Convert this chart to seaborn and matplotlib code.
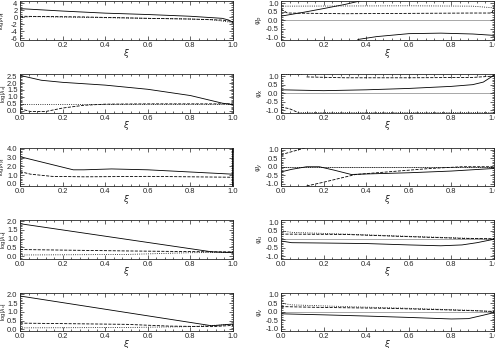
import matplotlib
matplotlib.use("Agg")
import matplotlib.pyplot as plt
import seaborn as sns
from matplotlib.ticker import AutoMinorLocator, MultipleLocator, FormatStrFormatter

sns.set_style("ticks")
plt.rcParams['font.family'] = ['Liberation Sans', 'DejaVu Sans']

# ---------------- data ----------------
# Row 1 left: log|lambda|
r1l_solid_x = [0.0, 0.2, 0.4, 0.6, 0.8, 0.95, 0.98, 1.0]
r1l_solid_y = [2.5, 1.8, 1.2, 0.8, 0.3, -0.3, -0.8, -1.5]
r1l_dash_x = [0.0, 0.3, 0.6, 0.8, 0.95, 1.0]
r1l_dash_y = [0.3, 0.1, -0.3, -0.5, -0.8, -1.2]
r1l_dot_x = [0.0, 0.05, 0.5, 0.8, 0.9, 1.0]
r1l_dot_y = [-0.1, 0.2, -0.2, -0.5, -0.7, -1.5]
# Row 1 right: phase
r1r_solid_a_x = [0.0, 0.1, 0.2, 0.3, 0.37]
r1r_solid_a_y = [0.24, 0.45, 0.68, 0.92, 1.12]
r1r_solid_b_x = [0.36, 0.45, 0.6, 0.75, 0.9, 1.0]
r1r_solid_b_y = [-1.12, -0.95, -0.78, -0.75, -0.8, -0.88]
r1r_dash_x = [0.0, 0.03, 0.3, 0.6, 0.9, 0.99, 1.0]
r1r_dash_y = [0.65, 0.42, 0.38, 0.4, 0.42, 0.42, 0.7]
r1r_dot_x = [0.0, 0.3, 0.6, 0.9, 1.0]
r1r_dot_y = [0.82, 0.83, 0.84, 0.82, 0.72]

# Row 2 left
r2l_solid_x = [0.0, 0.1, 0.2, 0.4, 0.6, 0.8, 0.95, 1.0]
r2l_solid_y = [2.55, 2.2, 2.05, 1.85, 1.55, 1.1, 0.55, 0.45]
r2l_dash_x = [0.0, 0.05, 0.12, 0.2, 0.3, 0.4, 0.6, 1.0]
r2l_dash_y = [0.15, -0.05, -0.05, 0.2, 0.4, 0.48, 0.5, 0.5]
r2l_dot_x = [0.0, 1.0]
r2l_dot_y = [0.5, 0.5]
# Row 2 right
r2r_solid_x = [0.0, 0.2, 0.4, 0.6, 0.8, 0.9, 0.95, 1.0]
r2r_solid_y = [0.2, 0.15, 0.2, 0.28, 0.4, 0.5, 0.65, 1.05]
r2r_dash_a_x = [0.12, 0.3, 0.6, 0.9, 1.0]
r2r_dash_a_y = [0.95, 0.9, 0.9, 0.92, 1.0]
r2r_dash_b_x = [0.0, 0.04, 0.08]
r2r_dash_b_y = [-0.8, -0.9, -1.12]
r2r_dot_a_x = [0.0, 0.1]
r2r_dot_a_y = [1.1, 1.1]
r2r_dot_b_x = [0.08, 1.0]
r2r_dot_b_y = [-1.1, -1.1]

# Row 3 left
r3l_solid_x = [0.0, 0.0, 0.05, 0.1, 0.2, 0.25, 0.3, 0.43, 0.6, 0.8, 1.0]
r3l_solid_y = [3.8, 3.1, 2.8, 2.5, 1.9, 1.6, 1.6, 1.7, 1.6, 1.35, 1.1]
r3l_dash_x = [0.0, 0.05, 0.15, 0.3, 0.6, 1.0]
r3l_dash_y = [1.4, 1.1, 0.85, 0.8, 0.85, 0.75]
r3l_edge_x = [1.0, 1.0]
r3l_edge_y = [-0.25, 4.15]
# Row 3 right
r3r_solid_x = [0.0, 0.05, 0.12, 0.18, 0.25, 0.33, 0.4, 0.6, 0.8, 1.0]
r3r_solid_y = [-0.3, -0.15, 0.0, 0.0, -0.2, -0.45, -0.42, -0.35, -0.25, -0.1]
r3r_dash_a_x = [0.0, 0.12]
r3r_dash_a_y = [0.7, 1.12]
r3r_dash_b_x = [0.12, 0.2, 0.3, 0.35, 0.5, 0.7, 0.85, 1.0]
r3r_dash_b_y = [-1.12, -0.9, -0.6, -0.45, -0.3, -0.1, 0.0, 0.0]
r3r_dot_x = [0.0, 1.0]
r3r_dot_y = [0.0, 0.0]

# Row 4 left
r4l_solid_x = [0.0, 0.9, 1.0]
r4l_solid_y = [1.85, 0.25, 0.2]
r4l_dash_x = [0.0, 0.5, 0.9, 1.0]
r4l_dash_y = [0.38, 0.3, 0.25, 0.25]
r4l_dot_x = [0.0, 0.5, 0.8, 1.0]
r4l_dot_y = [0.07, 0.1, 0.2, 0.22]
# Row 4 right
r4r_solid_x = [0.0, 0.05, 0.2, 0.4, 0.6, 0.75, 0.85, 0.92, 1.0]
r4r_solid_y = [-0.1, -0.2, -0.22, -0.25, -0.33, -0.38, -0.33, -0.2, 0.0]
r4r_dash_x = [0.0, 0.3, 0.6, 0.85, 1.0]
r4r_dash_y = [0.3, 0.28, 0.15, 0.05, 0.03]
r4r_dot_x = [0.0, 0.05, 0.3, 0.6, 0.85, 1.0]
r4r_dot_y = [0.5, 0.4, 0.3, 0.17, 0.07, 0.0]

# Row 5 left
r5l_solid_x = [0.0, 0.9, 1.0]
r5l_solid_y = [1.9, 0.2, 0.3]
r5l_dash_x = [0.0, 0.5, 0.7, 0.9, 1.0]
r5l_dash_y = [0.35, 0.28, 0.18, 0.15, 0.22]
r5l_dot_x = [0.0, 0.5, 0.8, 1.0]
r5l_dot_y = [0.08, 0.1, 0.15, 0.28]
# Row 5 right
r5r_solid_x = [0.0, 0.2, 0.4, 0.6, 0.8, 0.88, 0.95, 1.0]
r5r_solid_y = [-0.12, -0.18, -0.25, -0.33, -0.42, -0.4, -0.2, -0.05]
r5r_dash_x = [0.0, 0.2, 0.5, 0.8, 1.0]
r5r_dash_y = [0.3, 0.25, 0.2, 0.1, 0.02]
r5r_dot_x = [0.0, 0.05, 0.3, 0.6, 0.9, 1.0]
r5r_dot_y = [0.5, 0.4, 0.3, 0.2, 0.08, 0.0]

left_labels = [r"log|$\lambda_\rho$|", r"log|$\lambda_x$|", r"log|$\lambda_y$|",
               r"log|$\lambda_u$|", r"log|$\lambda_v$|"]
right_labels = [r"$\psi_\rho$", r"$\psi_x$", r"$\psi_y$", r"$\psi_u$", r"$\psi_v$"]
left_ylims = [(-6.4, 4.7), (-0.12, 2.65), (-0.25, 4.15), (-0.13, 2.06), (-0.1, 2.1)]
left_ymajor = [2, 0.5, 1, 0.5, 0.5]
left_yminor = [4, 5, 5, 5, 5]
xlabel = r"$\xi$"

# ---------------- layout ----------------
W, H = 495, 348
fig = plt.figure(figsize=(W / 100, H / 100), dpi=100)
tops = [1, 74, 147.5, 220, 292.5]
hgt = 38.5
AW = 213
FS = 5.4


def make_ax(xpx, top):
    return fig.add_axes([xpx / W, 1 - (top + hgt) / H, AW / W, hgt / H])


def style(ax, major, minor_n):
    ax.set_xlim(0, 1)
    ax.xaxis.set_major_locator(MultipleLocator(0.2))
    ax.xaxis.set_minor_locator(AutoMinorLocator(5))
    ax.yaxis.set_major_locator(MultipleLocator(major))
    ax.yaxis.set_minor_locator(AutoMinorLocator(minor_n))
    ax.tick_params(which='both', direction='in', top=True, right=True,
                   labelsize=FS, width=0.5, pad=1.8)
    ax.tick_params(which='major', length=3)
    ax.tick_params(which='minor', length=1.5)
    ax.xaxis.set_major_formatter(FormatStrFormatter('%.1f'))
    for s in ax.spines.values():
        s.set_linewidth(0.6)
    ax.set_xlabel(xlabel, fontsize=FS + 1)
    ax.xaxis.set_label_coords(0.5, -13.5 / hgt)
    ax.xaxis.label.set_va('center')


def line(ax, x, y, ls):
    sns.lineplot(x=x, y=y, ax=ax, color='k', linestyle=ls, linewidth=0.6,
                 sort=False, estimator=None, legend=False)


left_series = [
    [(r1l_solid_x, r1l_solid_y, '-'), (r1l_dash_x, r1l_dash_y, '--'), (r1l_dot_x, r1l_dot_y, ':')],
    [(r2l_solid_x, r2l_solid_y, '-'), (r2l_dash_x, r2l_dash_y, '--'), (r2l_dot_x, r2l_dot_y, ':')],
    [(r3l_solid_x, r3l_solid_y, '-'), (r3l_dash_x, r3l_dash_y, '--')],
    [(r4l_solid_x, r4l_solid_y, '-'), (r4l_dash_x, r4l_dash_y, '--'), (r4l_dot_x, r4l_dot_y, ':')],
    [(r5l_solid_x, r5l_solid_y, '-'), (r5l_dash_x, r5l_dash_y, '--'), (r5l_dot_x, r5l_dot_y, ':')],
]
right_series = [
    [(r1r_solid_a_x, r1r_solid_a_y, '-'), (r1r_solid_b_x, r1r_solid_b_y, '-'),
     (r1r_dash_x, r1r_dash_y, '--'), (r1r_dot_x, r1r_dot_y, ':')],
    [(r2r_solid_x, r2r_solid_y, '-'), (r2r_dash_a_x, r2r_dash_a_y, '--'),
     (r2r_dash_b_x, r2r_dash_b_y, '--'), (r2r_dot_a_x, r2r_dot_a_y, ':'),
     (r2r_dot_b_x, r2r_dot_b_y, ':')],
    [(r3r_solid_x, r3r_solid_y, '-'), (r3r_dash_a_x, r3r_dash_a_y, '--'),
     (r3r_dash_b_x, r3r_dash_b_y, '--'), (r3r_dot_x, r3r_dot_y, ':')],
    [(r4r_solid_x, r4r_solid_y, '-'), (r4r_dash_x, r4r_dash_y, '--'), (r4r_dot_x, r4r_dot_y, ':')],
    [(r5r_solid_x, r5r_solid_y, '-'), (r5r_dash_x, r5r_dash_y, '--'), (r5r_dot_x, r5r_dot_y, ':')],
]

for i in range(5):
    axl = make_ax(20, tops[i])
    style(axl, left_ymajor[i], left_yminor[i])
    for x, y, ls in left_series[i]:
        line(axl, x, y, ls)
    if i == 2:
        sns.lineplot(x=r3l_edge_x, y=r3l_edge_y, ax=axl, color='k', linewidth=2,
                     sort=False, estimator=None, legend=False)
    axl.set_ylim(*left_ylims[i])
    axl.set_ylabel(left_labels[i], fontsize=FS - 1.1)
    axl.yaxis.set_label_coords(-12.3 / AW, 0.5)
    if i == 0:
        axl.yaxis.set_major_formatter(FormatStrFormatter('%d'))
    else:
        axl.yaxis.set_major_formatter(FormatStrFormatter('%.1f'))

    axr = make_ax(281, tops[i])
    style(axr, 0.5, 5)
    axr.axhline(0.0, color='0.6', linewidth=0.6, zorder=0)
    for x, y, ls in right_series[i]:
        line(axr, x, y, ls)
    axr.set_ylim(-1.12, 1.12)
    axr.set_ylabel(right_labels[i], fontsize=FS)
    axr.yaxis.set_label_coords(-16 / AW, 0.5)
    axr.yaxis.set_major_formatter(FormatStrFormatter('%.1f'))

fig.savefig("out.png", dpi=100)
